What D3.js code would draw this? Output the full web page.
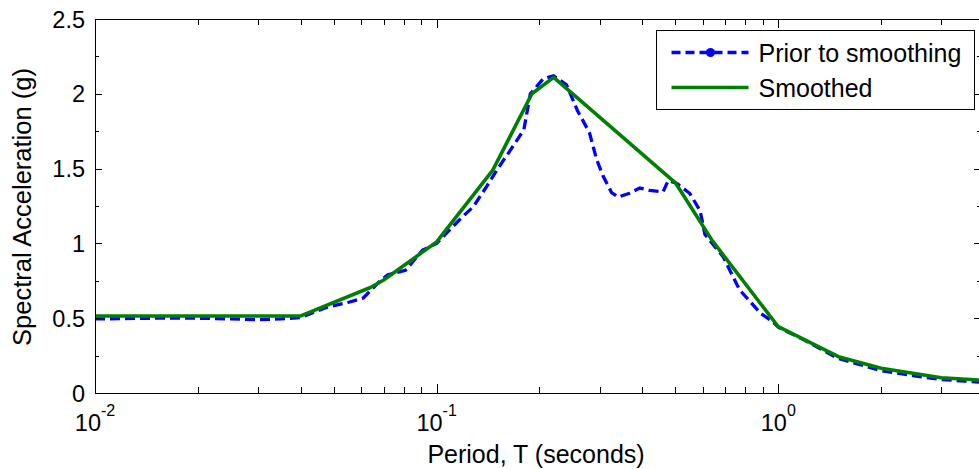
<!DOCTYPE html>
<html>
<head>
<meta charset="utf-8">
<script src="https://cdn.jsdelivr.net/npm/d3@7"></script>
<style>
  html, body { margin: 0; padding: 0; background: #fff; }
  svg { display: block; font-family: "Liberation Sans", Arial, sans-serif; }
</style>
</head>
<body>
<div id="chart"></div>
<script>
// ── Data ──
const priorPeriods = [0.01, 0.015, 0.02, 0.025, 0.03, 0.035, 0.04, 0.048, 0.055, 0.061, 0.068, 0.072,
  0.081, 0.091, 0.1, 0.107, 0.118, 0.128, 0.14, 0.15, 0.164, 0.18, 0.188, 0.205, 0.22, 0.24, 0.258,
  0.28, 0.294, 0.307, 0.325, 0.34, 0.367, 0.393, 0.42, 0.46, 0.476, 0.505, 0.55, 0.59, 0.61, 0.69,
  0.77, 0.82, 0.89, 0.96, 1.0, 1.2, 1.5, 2.0, 2.5, 3.0, 3.5, 4.0];
const priorSa = [0.495, 0.5, 0.5, 0.495, 0.49, 0.495, 0.505, 0.575, 0.605, 0.635, 0.745, 0.79,
  0.82, 0.955, 1.0, 1.07, 1.17, 1.245, 1.38, 1.49, 1.62, 1.76, 2.0, 2.1, 2.12, 2.06, 1.89,
  1.74, 1.56, 1.45, 1.34, 1.31, 1.335, 1.37, 1.355, 1.345, 1.42, 1.4, 1.335, 1.22, 1.06, 0.91,
  0.69, 0.62, 0.53, 0.48, 0.44, 0.35, 0.23, 0.15, 0.115, 0.09, 0.08, 0.07];

const smoothPeriods = [0.01, 0.04, 0.064, 0.07, 0.1, 0.146, 0.19, 0.22, 0.5, 0.64, 1.0, 1.5, 2.0, 3.0, 4.0];
const smoothSa      = [0.515, 0.515, 0.705, 0.755, 1.01, 1.49, 2.0, 2.11, 1.405, 1.02, 0.443, 0.243, 0.165, 0.102, 0.085];

const yTicks = [0, 0.5, 1, 1.5, 2, 2.5];
const yTickLabels = ['0', '0.5', '1', '1.5', '2', '2.5'];
const yMinorTicks = [0.25, 0.75, 1.25, 1.75, 2.25];
const xDecades = [0.01, 0.1, 1];
const xDecadeExponents = ['-2', '-1', '0'];

const seriesNames = ['Prior to smoothing', 'Smoothed'];
const xLabel = 'Period, T (seconds)';
const yLabel = 'Spectral Acceleration (g)';

const prior = priorPeriods.map((t, i) => ({ t, v: priorSa[i] }));
const smooth = smoothPeriods.map((t, i) => ({ t, v: smoothSa[i] }));

// ── Layout ──
const W = 979, H = 469;
const plot = { left: 95, right: 981, top: 19, bottom: 393 };
const BLUE = '#0000ff', GREEN = '#008000';

const svg = d3.select('#chart').append('svg')
  .attr('width', W).attr('height', H);

const x = d3.scaleLog().domain([0.01, 3.92]).range([plot.left, plot.right]);
const y = d3.scaleLinear().domain([0, 2.5]).range([plot.bottom, plot.top]);

svg.append('clipPath').attr('id', 'clip')
  .append('rect')
  .attr('x', plot.left).attr('y', plot.top)
  .attr('width', plot.right - plot.left).attr('height', plot.bottom - plot.top);

// ── Lines ──
const lineGen = d3.line().x(d => x(d.t)).y(d => y(d.v));

const lines = svg.append('g').attr('clip-path', 'url(#clip)');
lines.append('path').datum(prior)
  .attr('fill', 'none').attr('stroke', BLUE)
  .attr('stroke-width', 3.3).attr('stroke-dasharray', '10,5')
  .attr('d', lineGen);
lines.append('path').datum(smooth)
  .attr('fill', 'none').attr('stroke', GREEN)
  .attr('stroke-width', 3.6).attr('stroke-linejoin', 'round')
  .attr('d', lineGen);

// ── Axes box & ticks (ticks inward on all sides) ──
const axisG = svg.append('g').attr('stroke', '#000').attr('stroke-width', 1);

axisG.append('rect')
  .attr('x', plot.left + 0.5).attr('y', plot.top + 0.5)
  .attr('width', plot.right - plot.left).attr('height', plot.bottom - plot.top)
  .attr('fill', 'none');

const xMinor = [];
[0.01, 0.1, 1].forEach(dec => {
  for (let k = 2; k <= 9; k++) {
    const v = dec * k;
    if (v <= x.domain()[1]) xMinor.push(v);
  }
});

function xTick(v, len) {
  const px = Math.round(x(v)) + 0.5;
  axisG.append('line').attr('x1', px).attr('x2', px)
    .attr('y1', plot.bottom).attr('y2', plot.bottom - len);
  axisG.append('line').attr('x1', px).attr('x2', px)
    .attr('y1', plot.top).attr('y2', plot.top + len);
}
xDecades.forEach(v => xTick(v, 9));
xMinor.forEach(v => xTick(v, 6));

function yTick(v, len) {
  const py = Math.round(y(v)) + 0.5;
  axisG.append('line').attr('x1', plot.left).attr('x2', plot.left + len)
    .attr('y1', py).attr('y2', py);
  axisG.append('line').attr('x1', plot.right).attr('x2', plot.right - len)
    .attr('y1', py).attr('y2', py);
}
yTicks.forEach(v => yTick(v, 7));
yMinorTicks.forEach(v => yTick(v, 4));

// ── Tick labels ──
yTicks.forEach((v, i) => {
  svg.append('text')
    .attr('x', 85).attr('y', y(v) + 8.5)
    .attr('text-anchor', 'end')
    .style('font-size', '23.5px').attr('fill', '#000')
    .text(yTickLabels[i]);
});

xDecades.forEach((v, i) => {
  const t = svg.append('text')
    .attr('x', x(v)).attr('y', 431)
    .attr('text-anchor', 'middle')
    .style('font-size', '23.5px').attr('fill', '#000');
  t.append('tspan').text('10');
  t.append('tspan').attr('dy', -15).style('font-size', '16px').text(xDecadeExponents[i]);
});

// ── Axis labels ──
svg.append('text')
  .attr('x', (plot.left + plot.right) / 2 - 2).attr('y', 463)
  .attr('text-anchor', 'middle')
  .style('font-size', '25px').attr('fill', '#000')
  .text(xLabel);

svg.append('text')
  .attr('transform', `translate(31,${(plot.top + plot.bottom) / 2 + 1}) rotate(-90)`)
  .attr('text-anchor', 'middle')
  .style('font-size', '25.5px').attr('fill', '#000')
  .text(yLabel);

// ── Legend ──
const legend = svg.append('g').attr('transform', 'translate(656.5,30.5)');
legend.append('rect')
  .attr('width', 318).attr('height', 79)
  .attr('fill', '#fff').attr('stroke', '#000').attr('stroke-width', 1);

[{ label: seriesNames[0], color: BLUE, dash: '9,5', dot: true, w: 3.3 },
 { label: seriesNames[1], color: GREEN, dash: null, dot: false, w: 3.6 }]
  .forEach(({ label, color, dash, dot, w }, i) => {
    const ly = 22 + i * 35;
    legend.append('line')
      .attr('x1', 15).attr('x2', 92).attr('y1', ly).attr('y2', ly)
      .attr('stroke', color).attr('stroke-width', w)
      .attr('stroke-dasharray', dash);
    if (dot) {
      legend.append('circle').attr('cx', 54).attr('cy', ly).attr('r', 4.5).attr('fill', color);
    }
    legend.append('text')
      .attr('x', 102).attr('y', ly + 9)
      .style('font-size', '25px').attr('fill', '#000')
      .text(label);
  });
</script>
</body>
</html>
